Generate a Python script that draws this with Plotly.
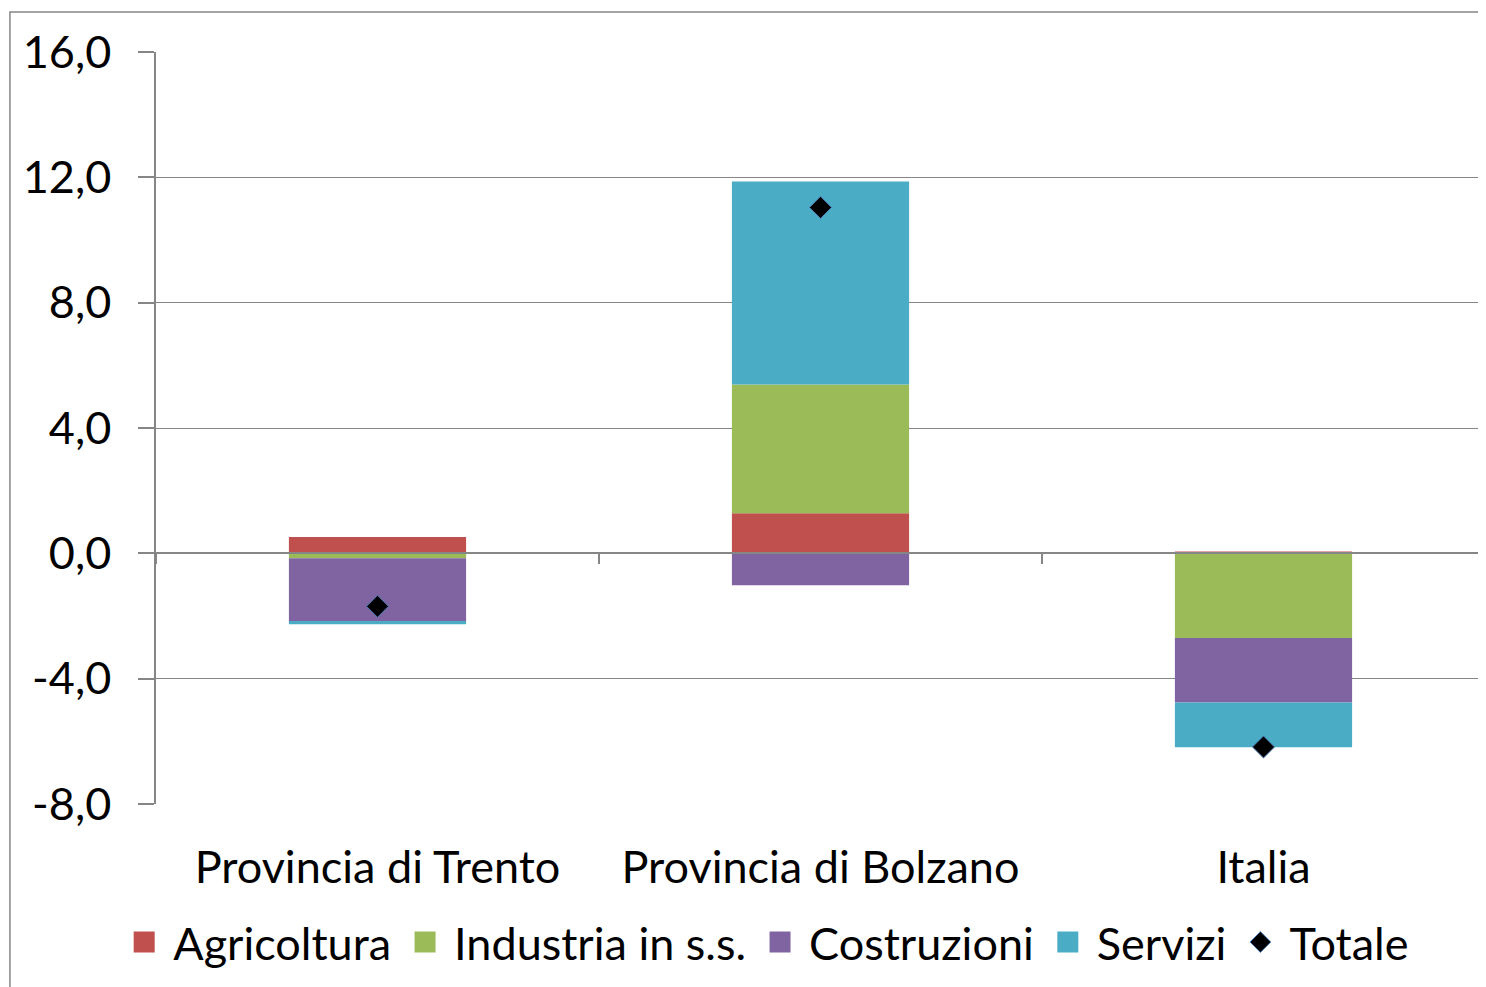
import plotly.graph_objects as go

# categories and contributions (percentage points)
categories = ["Provincia di Trento", "Provincia di Bolzano", "Italia"]
agricoltura = [0.52, 1.28, 0.06]
industria = [-0.16, 4.11, -2.70]
costruzioni = [-2.00, -1.02, -2.06]
servizi = [-0.10, 6.48, -1.43]
totale = [-1.69, 11.04, -6.18]

y_ticks = [-8, -4, 0, 4, 8, 12, 16]
y_tick_labels = ["-8,0", "-4,0", "0,0", "4,0", "8,0", "12,0", "16,0"]

FONT = "Lato"
FS = 45
GRID = "#868686"

fig = go.Figure()

series = [
    ("Agricoltura", agricoltura, "#C0504D"),
    ("Industria in s.s.", industria, "#9BBB59"),
    ("Costruzioni", costruzioni, "#8064A2"),
    ("Servizi", servizi, "#4BACC6"),
]
for name, vals, color in series:
    fig.add_trace(go.Bar(
        x=categories,
        y=vals,
        name=name,
        legendgroup=name,
        showlegend=False,
        marker=dict(color=color, line=dict(width=0)),
    ))
    # legend entry with a bigger square swatch
    fig.add_trace(go.Scatter(
        x=[None], y=[None],
        name=name,
        legendgroup=name,
        mode="markers",
        marker=dict(symbol="square", size=16, color=color,
                    line=dict(color=color, width=5)),
        hoverinfo="skip",
    ))

fig.add_trace(go.Scatter(
    x=categories,
    y=totale,
    name="Totale",
    mode="markers",
    marker=dict(symbol="diamond", size=17, color="black",
                line=dict(color="#4F81BD", width=1)),
))

# invisible helper trace so the crossing axis at zero gets boundary ticks
fig.add_trace(go.Scatter(
    x=categories, y=[None] * len(categories), xaxis="x2",
    showlegend=False, hoverinfo="skip",
))

fig.update_layout(
    barmode="relative",
    bargap=0.6,
    width=1478,
    height=979,
    plot_bgcolor="white",
    paper_bgcolor="white",
    font=dict(family=FONT, size=FS, color="black"),
    margin=dict(l=148, r=1, t=44, b=183),
    xaxis=dict(
        type="category",
        showline=False,
        showgrid=False,
        ticks="",
        tickfont=dict(size=FS),
        ticklabelstandoff=33,
    ),
    xaxis2=dict(
        type="category",
        overlaying="x",
        matches="x",
        anchor="free",
        position=1 / 3,
        side="bottom",
        showline=True,
        linecolor=GRID,
        linewidth=1.5,
        showgrid=False,
        ticks="outside",
        tickson="boundaries",
        ticklen=10,
        tickcolor=GRID,
        tickwidth=1.5,
        showticklabels=False,
    ),
    yaxis=dict(
        range=[-8, 16],
        tickvals=y_ticks,
        ticktext=y_tick_labels,
        showgrid=True,
        gridcolor=GRID,
        gridwidth=1.2,
        zeroline=False,
        showline=True,
        linecolor=GRID,
        linewidth=1.5,
        ticks="outside",
        ticklen=16,
        tickcolor=GRID,
        tickwidth=1.5,
        ticklabelstandoff=18,
    ),
    legend=dict(
        orientation="h",
        x=0.458,
        xanchor="center",
        y=-0.136,
        yanchor="top",
        font=dict(size=FS),
        itemwidth=48,
        traceorder="normal",
    ),
    showlegend=True,
    shapes=[dict(
        type="rect", xref="paper", yref="paper",
        x0=-0.1099, x1=1.2, y0=-0.5, y1=1.0532,
        line=dict(color=GRID, width=1.5),
        fillcolor="rgba(0,0,0,0)",
        layer="below",
    )],
)

fig.write_html("out.html")
